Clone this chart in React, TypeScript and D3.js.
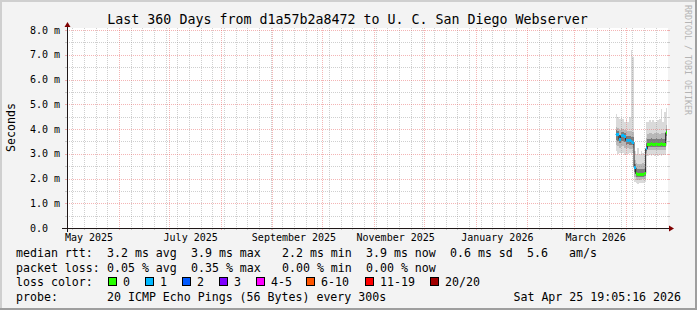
import React from 'react';
import * as d3 from 'd3';

const TITLE = 'Last 360 Days from d1a57b2a8472 to U. C. San Diego Webserver';
const Y_AXIS_TITLE = 'Seconds';
const WATERMARK = 'RRDTOOL / TOBI OETIKER';

const Y_TICKS = [0, 1, 2, 3, 4, 5, 6, 7, 8];
const Y_TICK_LABELS = ['0.0', '1.0 m', '2.0 m', '3.0 m', '4.0 m', '5.0 m', '6.0 m', '7.0 m', '8.0 m'];
const Y_MINOR = [0.5, 1.5, 2.5, 3.5, 4.5, 5.5, 6.5, 7.5];

const X_LABEL_MONTHS = ['2025-05-01', '2025-07-01', '2025-09-01', '2025-11-01', '2026-01-01', '2026-03-01'];
const X_LABELS = ['May 2025', 'July 2025', 'September 2025', 'November 2025', 'January 2026', 'March 2026'];

// daily bins (ms)
const DATES = [
  '2026-03-26', '2026-03-27', '2026-03-28', '2026-03-29', '2026-03-30', '2026-03-31',
  '2026-04-01', '2026-04-02', '2026-04-03', '2026-04-04', '2026-04-05', '2026-04-06',
  '2026-04-07', '2026-04-08', '2026-04-09', '2026-04-10', '2026-04-11', '2026-04-12',
  '2026-04-13', '2026-04-14', '2026-04-15', '2026-04-16', '2026-04-17', '2026-04-18',
  '2026-04-19', '2026-04-20', '2026-04-21', '2026-04-22', '2026-04-23', '2026-04-24', '2026-04-25',
];
const MEDIAN = [
  3.78, 3.76, 3.58, 3.72, 3.72, 3.70,
  3.54, 3.53, 3.52, 3.48, 3.47, 2.45,
  2.20, 2.18, 2.18, 2.18, 2.18, 2.20,
  3.20, 3.38, 3.38, 3.40, 3.37, 3.38,
  3.40, 3.38, 3.37, 3.40, 3.38, 3.38, 3.85,
];
const LOSS = [
  1, 1, 1, 1, 1, 1,
  1, 1, 1, 1, 1, 1,
  0, 0, 0, 0, 0, 0,
  1, 0, 0, 0, 0, 0,
  0, 0, 0, 0, 0, 0, 0,
];
const SMOKE_MIN = [
  3.10, 3.00, 3.05, 3.00, 3.05, 2.95,
  3.00, 3.00, 3.05, 3.00, 3.05, 1.85,
  1.80, 1.78, 1.80, 1.80, 1.82, 1.85,
  2.90, 2.92, 2.95, 2.90, 2.95, 2.92,
  2.95, 2.90, 2.95, 2.92, 2.95, 2.95, 3.30,
];
const SMOKE_LO = [
  3.35, 3.30, 3.25, 3.30, 3.30, 3.25,
  3.20, 3.22, 3.20, 3.20, 3.22, 2.05,
  1.95, 1.95, 1.95, 1.96, 1.97, 1.98,
  3.05, 3.15, 3.15, 3.16, 3.14, 3.15,
  3.16, 3.15, 3.14, 3.16, 3.15, 3.15, 3.55,
];
const SMOKE_HI = [
  4.10, 4.05, 3.95, 4.05, 4.00, 3.95,
  3.90, 3.92, 3.90, 3.90, 3.88, 2.75,
  2.62, 2.60, 2.58, 2.60, 2.62, 2.60,
  3.65, 3.80, 3.82, 3.85, 3.80, 3.82,
  3.85, 3.82, 3.80, 3.85, 3.82, 3.82, 4.15,
];
const SMOKE_MAX = [
  4.60, 4.50, 4.40, 4.45, 4.40, 4.30,
  4.40, 4.30, 4.50, 7.18, 6.90, 3.10,
  3.00, 3.25, 3.00, 3.10, 3.05, 3.00,
  4.30, 4.30, 4.35, 4.30, 4.35, 4.30,
  4.30, 4.35, 4.40, 4.80, 4.30, 4.70, 4.85,
];

const LOSS_LABELS = ['0', '1', '2', '3', '4-5', '6-10', '11-19', '20/20'];
const LOSS_COLORS = ['#26ff00', '#00b8ff', '#0059ff', '#7e00ff', '#ff00ff', '#ff5500', '#ff0000', '#a10000'];
const LOSS_MAX = [0, 1, 2, 3, 5, 10, 19, 20];

const MEDIAN_ITEMS = ['3.2 ms avg', '3.9 ms max', '2.2 ms min', '3.9 ms now', '0.6 ms sd', '5.6', 'am/s'];
const LOSS_ITEMS = ['0.05 % avg', '0.35 % max', '0.00 % min', '0.00 % now'];
const PROBE_TEXT = '20 ICMP Echo Pings (56 Bytes) every 300s';
const TIMESTAMP = 'Sat Apr 25 19:05:16 2026';

const W = 697;
const H = 310;
const MONO = '"DejaVu Sans Mono", monospace';

const START = new Date(Date.UTC(2025, 3, 30, 19, 5, 16));
const END = new Date(Date.UTC(2026, 3, 25, 19, 5, 16));

function lossColor(n: number) {
  for (let i = 0; i < LOSS_MAX.length; i++) if (n <= LOSS_MAX[i]) return LOSS_COLORS[i];
  return LOSS_COLORS[LOSS_COLORS.length - 1];
}

export default function App() {
  const X0 = 67, X1 = 667, YB = 228, YT = 30;
  const x = d3.scaleUtc().domain([START, END]).range([X0, X1]);
  const y = d3.scaleLinear().domain([0, 8]).range([YB, YT]);
  const ry = (v: number) => Math.round(y(v)) + 0.5;

  const months = d3.utcMonth.range(START, END);
  const monthKeys = new Set(months.map((m) => +m));
  const weeks = d3.utcSunday.range(START, END).filter((w) => !monthKeys.has(+w));
  const parse = d3.utcParse('%Y-%m-%d');
  const dates = DATES.map((s) => parse(s) as Date);
  const binEdges = dates.map((d, i) => [x(d), i + 1 < dates.length ? x(dates[i + 1]) : x(END)]);

  const minorColor = 'rgba(140,140,140,0.42)';
  const majorColor = 'rgba(230,90,90,0.45)';

  const stepPts: [number, number][] = dates.map((d, i) => [x(d), y(MEDIAN[i])]);
  stepPts.push([x(END), y(MEDIAN[MEDIAN.length - 1])]);
  const medLine = d3.line().curve(d3.curveStepAfter)(stepPts) || '';

  const col = (c: number) => 16 + 7 * c;
  const rowY = [257, 271.5, 286, 300.5];
  const medianXs = [col(13), col(25), col(38), col(50), col(62), col(73), col(79)];
  const lossXs = [col(13), col(25), col(38), col(50)];
  const boxXs = [108.5, 145.5, 182.5, 219.5, 256.5, 306.5, 365.5, 430.5];

  const labelOffsetDays = 13;

  return (
    <svg width={W} height={H} style={{ position: 'absolute', left: 0, top: 0, display: 'block' }}
      fontFamily={MONO}>
      <rect x={0} y={0} width={W} height={H} fill="#f3f3f3" />
      {/* 3D frame */}
      <path d={`M0,0 H${W} V2 H2 V${H} H0 Z`} fill="#cfcfcf" />
      <path d={`M${W},${H} H0 V${H - 2} H${W - 2} V0 H${W} Z`} fill="#9e9e9e" />

      {/* canvas */}
      <rect x={X0} y={28} width={X1 - X0 + 1} height={YB - 28} fill="#ffffff" />

      {/* smoke */}
      <g shapeRendering="crispEdges">
        {dates.map((d, i) => {
          const [a, b] = binEdges[i];
          const med = MEDIAN[i];
          const innerLo = (SMOKE_LO[i] + med) / 2;
          const innerHi = (SMOKE_HI[i] + med) / 2;
          return (
            <g key={'s' + i}>
              <rect x={a} width={b - a} y={y(SMOKE_MAX[i])} height={y(SMOKE_MIN[i]) - y(SMOKE_MAX[i])} fill="#dadada" />
              <rect x={a} width={b - a} y={y(SMOKE_HI[i])} height={y(SMOKE_LO[i]) - y(SMOKE_HI[i])} fill="#b8b8b8" />
              <rect x={a} width={b - a} y={y(innerHi)} height={y(innerLo) - y(innerHi)} fill="#7c7c7c" />
            </g>
          );
        })}
      </g>

      {/* median */}
      <path d={medLine} fill="none" stroke="#202020" strokeWidth={1} />
      <g shapeRendering="crispEdges">
        {dates.map((d, i) => {
          const [a, b] = binEdges[i];
          return <rect key={'m' + i} x={a} width={b - a} y={y(MEDIAN[i]) - 1.5} height={3} fill={lossColor(LOSS[i])} />;
        })}
      </g>

      {/* grid */}
      <g>
        {Y_MINOR.map((v) => (
          <g key={'ym' + v}>
            <line x1={X0} x2={X1 + 1} y1={ry(v)} y2={ry(v)} stroke={minorColor} strokeDasharray="1,1" />
            <line x1={X0 - 2} x2={X0} y1={ry(v)} y2={ry(v)} stroke={minorColor} />
            <line x1={X1 + 1} x2={X1 + 3} y1={ry(v)} y2={ry(v)} stroke={minorColor} />
          </g>
        ))}
        {weeks.map((w) => {
          const xx = Math.round(x(w)) + 0.5;
          return (
            <g key={'w' + +w}>
              <line x1={xx} x2={xx} y1={YT - 2} y2={YB} stroke={minorColor} strokeDasharray="1,1" />
              <line x1={xx} x2={xx} y1={YB} y2={YB + 2} stroke={minorColor} />
            </g>
          );
        })}
        {Y_TICKS.filter((v) => v > 0).map((v) => (
          <g key={'yM' + v}>
            <line x1={X0} x2={X1 + 1} y1={ry(v)} y2={ry(v)} stroke={majorColor} strokeDasharray="1,1" />
            <line x1={X0 - 2} x2={X0} y1={ry(v)} y2={ry(v)} stroke={majorColor} />
            <line x1={X1 + 1} x2={X1 + 3} y1={ry(v)} y2={ry(v)} stroke={majorColor} />
          </g>
        ))}
        {months.map((m) => {
          const xx = Math.round(x(m)) + 0.5;
          if (xx < X0 + 2) return null;
          return (
            <g key={'M' + +m}>
              <line x1={xx} x2={xx} y1={YT - 2} y2={YB} stroke={majorColor} strokeDasharray="1,1" />
              <line x1={xx} x2={xx} y1={YB} y2={YB + 2} stroke={majorColor} />
            </g>
          );
        })}
      </g>

      {/* axes */}
      <line x1={X0 - 5} x2={X1 + 2} y1={YB + 0.5} y2={YB + 0.5} stroke="#201818" strokeWidth={1} />
      <line x1={X0 + 0.5} x2={X0 + 0.5} y1={YB + 4} y2={25} stroke="#201818" strokeWidth={1} />
      <path d={`M${X1 + 2},${YB - 2.5} L${X1 + 7},${YB + 0.5} L${X1 + 2},${YB + 3.5} Z`} fill="#7f0000" />
      <path d={`M${X0 - 2.5},${27} L${X0 + 0.5},${22} L${X0 + 3.5},${27} Z`} fill="#7f0000" />

      {/* y labels */}
      {Y_TICKS.map((v, i) => (
        <text key={'yl' + v} x={30} y={y(v) + 3.5} fontSize={10} fill="#000">{Y_TICK_LABELS[i]}</text>
      ))}
      {/* x labels */}
      {X_LABEL_MONTHS.map((s, i) => {
        const t = new Date(+(parse(s) as Date) + labelOffsetDays * 86400000);
        return (
          <text key={'xl' + s} x={x(t)} y={240.5} fontSize={10} textAnchor="middle" fill="#000">{X_LABELS[i]}</text>
        );
      })}

      {/* title */}
      <text x={347.5} y={24} fontSize={13.3} textAnchor="middle" fill="#000">{TITLE}</text>
      <text transform={`translate(14.5,127.5) rotate(-90)`} fontSize={11.6} textAnchor="middle" fill="#000">{Y_AXIS_TITLE}</text>
      <text transform={`translate(685,5) rotate(90)`} fontSize={8.3} fill="#b4b4b4">{WATERMARK}</text>

      {/* legend */}
      <g fontSize={11.6} fill="#000">
        <text x={16} y={rowY[0]}>median rtt:</text>
        {MEDIAN_ITEMS.map((t, i) => (
          <text key={'mi' + i} x={medianXs[i]} y={rowY[0]}>{t}</text>
        ))}
        <text x={16} y={rowY[1]}>packet loss:</text>
        {LOSS_ITEMS.map((t, i) => (
          <text key={'li' + i} x={lossXs[i]} y={rowY[1]}>{t}</text>
        ))}
        <text x={16} y={rowY[2]}>loss color:</text>
        {LOSS_LABELS.map((t, i) => (
          <g key={'lc' + i}>
            <rect x={boxXs[i]} y={277.5} width={8} height={8} fill={LOSS_COLORS[i]} stroke="#000" strokeWidth={1} />
            <text x={boxXs[i] + 14.5} y={rowY[2]}>{t}</text>
          </g>
        ))}
        <text x={16} y={rowY[3]}>probe:</text>
        <text x={col(13)} y={rowY[3]}>{PROBE_TEXT}</text>
        <text x={681} y={rowY[3]} textAnchor="end">{TIMESTAMP}</text>
      </g>
    </svg>
  );
}
